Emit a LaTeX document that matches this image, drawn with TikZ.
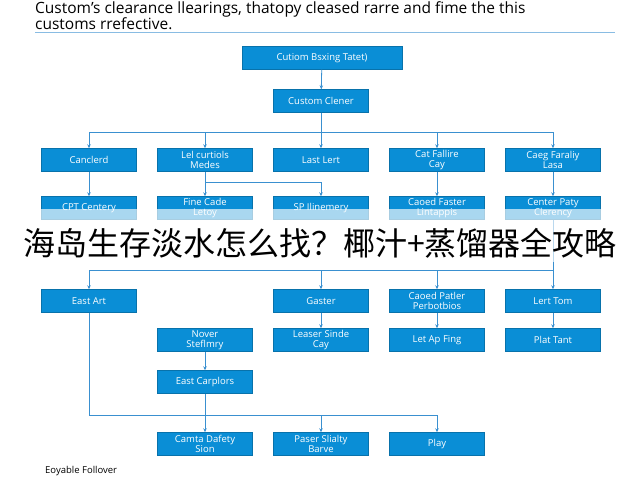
\documentclass[tikz,border=0pt]{standalone}
\usepackage{fontspec}
\setmainfont{Open Sans}
\newfontfamily\cjk{Noto Sans CJK SC}
\usetikzlibrary{arrows.meta,positioning}
\definecolor{boxblue}{HTML}{0A8ED6}
\definecolor{lineblue}{HTML}{3A90D0}
\begin{document}
\begin{tikzpicture}[x=1pt,y=-1pt,
  box/.style={draw=boxblue!80!black,fill=boxblue,text=white,minimum width=95pt,minimum height=23pt,
    inner sep=1pt,align=center,font=\fontsize{9.5}{10}\selectfont},
  link/.style={draw=lineblue,line width=0.8pt},
  arr/.style={link,-{Stealth[length=4pt,width=3.5pt]}}]
\useasboundingbox (0,0) rectangle (640,480);
% Heading
\node[anchor=north west,align=left,inner sep=0,font=\fontsize{15.5}{14}\selectfont] (head) at (35,1)
  {Custom's clearance llearings, thatopy cleased rarre and fime the this\\customs rrefective.};
\draw[lineblue!60,line width=1pt] (35,32) -- (615,32);
% Top boxes
\node[box,minimum width=160pt] (start) at (322,58) {Cutiom Bsxing Tatet)};
\node[box] (clener) at (321,101) {Custom Clener};
\draw[arr] (start) -- (clener);
% First row
\node[box] (cancl) at (89,160) {Canclerd};
\node[box] (letcu) at (205,160) {Lel curtiols\\Medes};
\node[box] (lastl) at (321,160) {Last Lert};
\node[box] (catfa) at (437,160) {Cat Fallire\\Cay};
\node[box] (caeg) at (553,160) {Caeg Faraliy\\Lasa};
\coordinate (split) at (321,132);
\draw[link] (clener) -- (split);
\foreach \n in {cancl,letcu,lastl,catfa,caeg}
  \draw[arr] (split) -| (\n);
% Second row
\node[box] (cpt) at (89,208) {CPT Centery};
\node[box] (fine) at (205,208) {Fine Cade\\Letoy};
\node[box] (sp) at (321,208) {SP Ilinemery};
\node[box] (caoed) at (437,208) {Caoed Faster\\Lintappis};
\node[box] (center) at (553,208) {Center Paty\\Clerency};
\draw[arr] (cancl) -- (cpt);
\draw[arr] (letcu) -- (fine);
\coordinate (fork) at (205,182);
\draw[arr] (fork) -| (sp);
\draw[arr] (catfa) -- (caoed);
\draw[arr] (caeg) -- (center);
% Third row
\node[box] (east) at (89,301) {East Art};
\node[box] (gaster) at (321,301) {Gaster};
\node[box] (cpart) at (437,301) {Caoed Patler\\Perbotbios};
\node[box] (lertt) at (553,301) {Lert Tom};
\coordinate (spread) at (553,270);
\draw[link] (center) -- (spread);
\foreach \n in {east,gaster,cpart,lertt}
  \draw[arr] (spread) -| (\n);
% Fourth row
\node[box] (nover) at (205,340) {Nover\\Steflmry};
\node[box] (leaser) at (321,340) {Leaser Sinde\\Cay};
\node[box] (letap) at (437,340) {Let Ap Fing};
\node[box] (plat) at (553,340) {Plat Tant};
\draw[arr] (gaster) -- (leaser);
\draw[arr] (cpart) -- (letap);
\draw[arr] (lertt) -- (plat);
\node[box] (carpl) at (205,382) {East Carplors};
\draw[arr] (nover) -- (carpl);
% Bottom row
\node[box] (camta) at (205,444) {Camta Dafety\\Sion};
\node[box] (paser) at (321,444) {Paser Slialty\\Barve};
\node[box] (play) at (437,444) {Play};
\coordinate (merge) at (89,415);
\draw[link] (east) -- (merge);
\draw[link] (carpl) -- (205,415);
\foreach \n in {camta,paser,play}
  \draw[arr] (merge) -| (\n);
\node[anchor=west,inner sep=0,font=\fontsize{9.5}{10}\selectfont] (foot) at (45,471) {Eoyable Follover};
% Caption band
\fill[white,opacity=0.65] (0,209) rectangle (640,262);
\node[inner sep=0,font=\cjk\fontsize{32}{33}\selectfont] (cap) at (320,243) {海岛生存淡水怎么找？椰汁+蒸馏器全攻略};
\end{tikzpicture}
\end{document}
